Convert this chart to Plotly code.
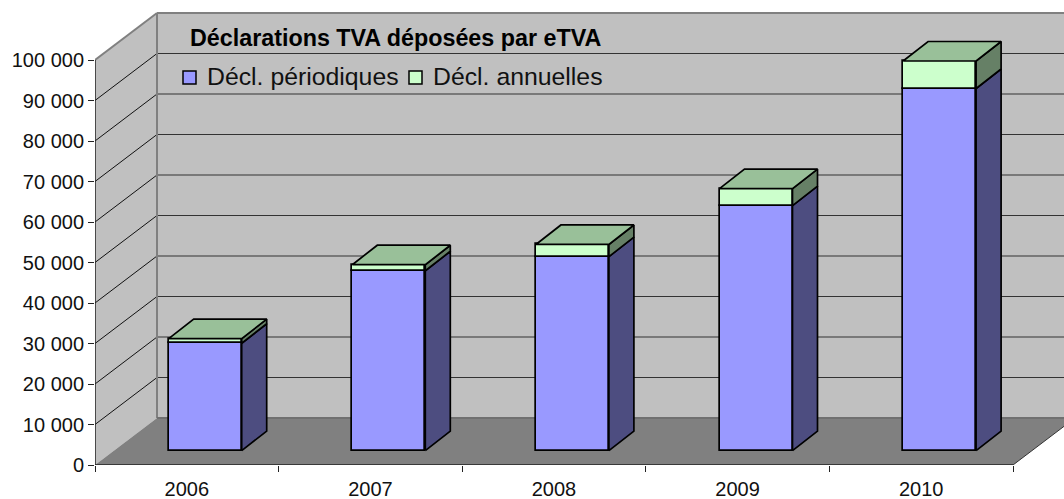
import plotly.graph_objects as go

years = ["2006", "2007", "2008", "2009", "2010"]
periodiques = [26500, 44400, 47900, 60500, 89400]
annuelles = [1150, 1500, 3000, 4200, 6800]
y_ticks = list(range(0, 100001, 10000))
y_labels = ["0", "10 000", "20 000", "30 000", "40 000", "50 000", "60 000", "70 000", "80 000", "90 000", "100 000"]
legend_names = ["Décl. périodiques", "Décl. annuelles"]
chart_title = "Déclarations TVA déposées par eTVA"

W, H = 1064, 499
L, R, T, B = 95, 0, 10, 34
PX_X = 183.6
PX_Y = 4.05 / 1000
xr = [-0.5, -0.5 + (W - L - R) / PX_X]
yr = [0, (H - T - B) / PX_Y]

WALL_DX = 62 / PX_X
WALL_DY = 47 / PX_Y
BAR_SHIFT = 18.4 / PX_X
BAR_W = 73 / PX_X
BAR_BASE = 14.4 / PX_Y
BAR_DX = 25 / PX_X
BAR_DY = 19.5 / PX_Y

C_PER, C_ANN = "#9999FF", "#CCFFCC"
C_PER_S, C_ANN_S, C_TOP = "#4D4D80", "#668066", "#99C099"
FONT = "Liberation Sans, Arial, sans-serif"


def pxx(p):
    return (p - L) / (W - L - R)


def pxy(p):
    return (H - B - p) / (H - T - B)


xs = [i + BAR_SHIFT for i in range(len(years))]
base1 = [BAR_BASE] * len(years)
base2 = [b + p for b, p in zip(base1, periodiques)]

fig = go.Figure()
line = dict(color="black", width=1.7)
fig.add_bar(x=xs, y=periodiques, base=base1, width=BAR_W, name=legend_names[0],
            marker=dict(color=C_PER, line=line))
fig.add_bar(x=xs, y=annuelles, base=base2, width=BAR_W, name=legend_names[1],
            marker=dict(color=C_ANN, line=line))


def poly(px, py, color):
    fig.add_scatter(x=px + px[:1], y=py + py[:1], mode="lines", fill="toself", fillcolor=color,
                    line=line, showlegend=False, hoverinfo="skip")


for x, b1, p, b2, a in zip(xs, base1, periodiques, base2, annuelles):
    r = x + BAR_W / 2
    l = x - BAR_W / 2
    poly([r, r + BAR_DX, r + BAR_DX, r], [b1, b1 + BAR_DY, b1 + p + BAR_DY, b1 + p], C_PER_S)
    poly([r, r + BAR_DX, r + BAR_DX, r], [b2, b2 + BAR_DY, b2 + a + BAR_DY, b2 + a], C_ANN_S)
    top = b2 + a
    poly([l, r, r + BAR_DX, l + BAR_DX], [top, top, top + BAR_DY, top + BAR_DY], C_TOP)

x0, x1 = -0.5, 4.5
top = y_ticks[-1]
GREY = "#808080"
shapes = [
    dict(type="path", layer="below", line=dict(width=0), fillcolor="#C0C0C0",
         path=f"M{x0},0 L{x0},{top} L{x0+WALL_DX},{top+WALL_DY} L{xr[1]+1},{top+WALL_DY} L{xr[1]+1},{WALL_DY} L{x0+WALL_DX},{WALL_DY} Z"),
    dict(type="path", layer="below", line=dict(width=0), fillcolor=GREY,
         path=f"M{x0},0 L{x1},0 L{x1+WALL_DX},{WALL_DY} L{x0+WALL_DX},{WALL_DY} Z"),
]
for v in y_ticks[1:-1]:
    shapes.append(dict(type="line", layer="below", x0=x0, x1=x0 + WALL_DX, y0=v, y1=v + WALL_DY,
                       line=dict(color="#111111", width=1)))
    shapes.append(dict(type="line", layer="below", x0=x0 + WALL_DX, x1=xr[1] + 1, y0=v + WALL_DY, y1=v + WALL_DY,
                       line=dict(color="#333333", width=1)))
for a, b, c, d, col, w in [
    (x0, top, x0 + WALL_DX, top + WALL_DY, GREY, 2),
    (x0 + WALL_DX, top + WALL_DY, xr[1] + 1, top + WALL_DY, GREY, 2),
    (x0 + WALL_DX, WALL_DY, x0 + WALL_DX, top + WALL_DY, GREY, 2),
    (x0 + WALL_DX, WALL_DY, xr[1] + 1, WALL_DY, "#707070", 2),
    (x0, 0, x0, top, "#222222", 1.5),
    (x0, 0, x1, 0, "#222222", 1.5),
    (x1, 0, x1 + WALL_DX, WALL_DY, "#333333", 1),
]:
    shapes.append(dict(type="line", layer="below", x0=a, y0=b, x1=c, y1=d, line=dict(color=col, width=w)))

for sx0, color in [(183, C_PER), (409, C_ANN)]:
    shapes.append(dict(type="rect", xref="paper", yref="paper", x0=pxx(sx0), x1=pxx(sx0 + 13),
                       y0=pxy(84), y1=pxy(71), fillcolor=color, line=dict(color="black", width=1.5)))

annotations = [dict(text=f"<b>{chart_title}</b>", xref="paper", yref="paper",
                    x=pxx(188), y=pxy(37.5), xanchor="left", yanchor="middle",
                    showarrow=False, font=dict(size=23.3, color="black"))]
for name, tx in zip(legend_names, [205, 431]):
    annotations.append(dict(text=name, xref="paper", yref="paper", x=pxx(tx), y=pxy(76),
                            xanchor="left", yanchor="middle", showarrow=False,
                            font=dict(size=24.8, color="#111111")))

fig.update_layout(
    width=W, height=H, margin=dict(l=L, r=R, t=T, b=B, pad=0, autoexpand=False),
    paper_bgcolor="white", plot_bgcolor="white", barmode="overlay", bargap=0,
    font=dict(family=FONT, color="#111111", size=20),
    shapes=shapes, annotations=annotations, showlegend=False,
    xaxis=dict(range=xr, tickmode="array", tickvals=list(range(len(years))), ticktext=years,
               ticks="", showgrid=False, zeroline=False, showline=False, ticklabelstandoff=10,
               tickfont=dict(size=20),
               minor=dict(tickmode="array", tickvals=[i - 0.5 for i in range(len(years) + 1)],
                          ticks="outside", ticklen=6, tickcolor="#222222", tickwidth=1, showgrid=False)),
    yaxis=dict(range=yr, tickmode="array", tickvals=y_ticks, ticktext=y_labels,
               ticks="outside", ticklen=6, tickcolor="#222222", tickwidth=1,
               showgrid=False, zeroline=False, showline=False, tickfont=dict(size=20)),
)

fig.write_html("out.html", config={"displayModeBar": False},
               post_script="document.body.style.margin='0';document.documentElement.style.overflow='hidden';")
